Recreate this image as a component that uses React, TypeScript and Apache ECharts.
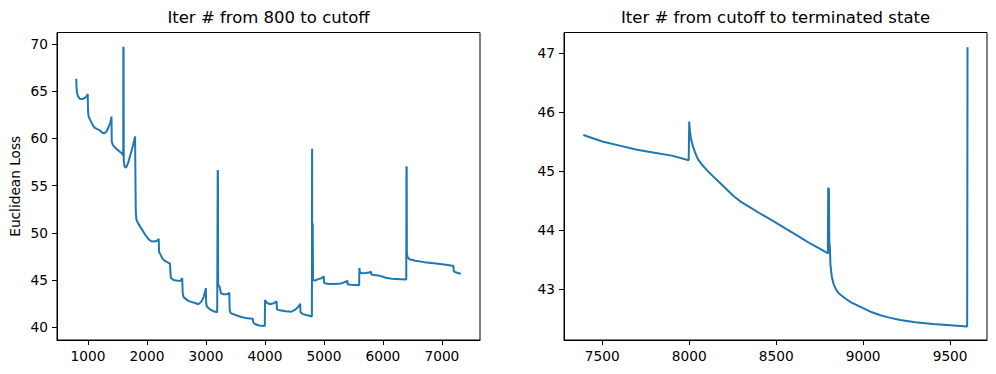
import React, { useEffect, useRef } from "react";
import * as echarts from "echarts";

// Left panel: Iter # from 800 to cutoff
const leftIters = [
  800, 806, 815, 830, 860, 900, 940, 970, 995,
  1000, 1010, 1040, 1080, 1110, 1150, 1200, 1240, 1270, 1310, 1350, 1380, 1398,
  1402, 1420, 1445, 1500, 1575, 1597, 1599, 1601, 1603, 1606, 1620, 1645, 1680, 1720, 1760, 1798,
  1805, 1810, 1820, 1850, 1900, 1970, 2030, 2080, 2150, 2180, 2198,
  2205, 2220, 2260, 2310, 2390,
  2400, 2410, 2450, 2500, 2560, 2580, 2598,
  2605, 2620, 2700, 2800, 2870, 2920, 2960, 2985, 2998,
  3003, 3015, 3070, 3130, 3190, 3197, 3199, 3201, 3203, 3206, 3230, 3255, 3300, 3360, 3395,
  3402, 3420, 3500, 3600, 3700, 3795,
  3802, 3830, 3900, 3997,
  4001, 4030, 4080, 4150, 4197,
  4203, 4250, 4350, 4450, 4520, 4570, 4597,
  4603, 4640, 4700, 4796,
  4799, 4801, 4803, 4806, 4810, 4815, 4850, 4900, 4960, 4997,
  5003, 5050, 5150, 5250, 5320, 5380, 5397,
  5403, 5450, 5597,
  5601, 5610, 5640, 5700, 5770, 5797,
  5803, 5850, 5950, 6000, 6050, 6150, 6300, 6396,
  6399, 6401, 6403, 6406, 6420, 6450, 6550, 6700, 6900, 7100, 7195,
  7200, 7220, 7270, 7320,
];
const leftLoss = [
  66.3, 65.3, 64.8, 64.45, 64.2, 64.15, 64.25, 64.4, 64.68,
  62.9, 62.3, 61.9, 61.4, 61.13, 61.0, 60.85, 60.6, 60.52, 60.7, 61.2, 61.7, 62.3,
  59.7, 59.3, 59.12, 58.8, 58.4, 58.2, 69.7, 58.3, 69.6, 57.6, 57.0, 56.9, 57.4, 58.3, 59.2, 60.2,
  55.0, 52.3, 51.4, 51.0, 50.5, 49.8, 49.3, 49.08, 49.1, 49.2, 49.38,
  48.0, 47.8, 47.3, 47.0, 46.75,
  45.5, 45.2, 45.0, 44.95, 44.9, 45.05, 45.2,
  43.6, 43.2, 42.8, 42.6, 42.45, 42.7, 43.2, 43.8, 44.15,
  42.6, 42.2, 41.9, 41.7, 41.6, 41.6, 56.65, 45.0, 56.5, 44.5, 44.3, 43.6, 43.5, 43.5, 43.65,
  41.8, 41.5, 41.3, 41.1, 40.95, 40.9,
  40.5, 40.35, 40.2, 40.15,
  42.9, 42.6, 42.45, 42.55, 42.75,
  41.9, 41.8, 41.7, 41.65, 41.9, 42.2, 42.5,
  41.6, 41.4, 41.3, 41.15,
  58.9, 45.5, 51.0, 45.3, 51.0, 45.0, 44.95, 45.1, 45.2, 45.4,
  44.7, 44.6, 44.58, 44.6, 44.7, 44.85, 44.95,
  44.55, 44.5, 44.45,
  46.27, 45.8, 45.72, 45.75, 45.8, 45.9,
  45.6, 45.55, 45.45, 45.35, 45.25, 45.15, 45.1, 45.05,
  57.05, 49.3, 57.0, 47.8, 47.4, 47.2, 47.05, 46.9, 46.75, 46.6, 46.5,
  46.0, 45.85, 45.75, 45.67,
];

// Right panel: Iter # from cutoff to terminated state
const rightIters = [
  7391, 7450, 7500, 7600, 7700, 7800, 7900, 7997,
  8000, 8003, 8010, 8020, 8035, 8050, 8075, 8103, 8150, 8200, 8256, 8300, 8350, 8400, 8447,
  8500, 8550, 8600, 8650, 8700, 8750, 8797,
  8799, 8801, 8803, 8806, 8808, 8812, 8820, 8830, 8845, 8860, 8900, 8930, 9000, 9050,
  9100, 9150, 9213, 9300, 9400, 9500, 9598, 9600,
];
const rightLoss = [
  45.61, 45.55, 45.5, 45.43, 45.36, 45.31, 45.26, 45.18,
  45.84, 45.7, 45.55, 45.43, 45.3, 45.2, 45.1, 45.01, 44.87, 44.73, 44.57, 44.47, 44.38, 44.29, 44.21,
  44.12, 44.03, 43.94, 43.85, 43.76, 43.68, 43.6,
  44.72, 43.6, 44.7, 43.6, 43.75, 43.4, 43.2, 43.08, 42.98, 42.92, 42.83, 42.77, 42.67, 42.6,
  42.55, 42.51, 42.47, 42.43, 42.4, 42.38, 42.36, 47.1,
];

const leftXTicks = [1000, 2000, 3000, 4000, 5000, 6000, 7000];
const leftYTicks = [40, 45, 50, 55, 60, 65, 70];
const rightXTicks = [7500, 8000, 8500, 9000, 9500];
const rightYTicks = [43, 44, 45, 46, 47];

const titles = ["Iter # from 800 to cutoff", "Iter # from cutoff to terminated state"];
const yLabel = "Euclidean Loss";

const FONT = "DejaVu Sans";
const COLOR = "#1f77b4";
const TICK_FONT = 13.7;

function zip(xs: number[], ys: number[]) {
  return xs.map((x, i) => [x, ys[i]]);
}

const plain = (v: number) => String(v);

function xAxisCfg(grid: number, min: number, max: number, ticks: number[]) {
  return {
    type: "value",
    gridIndex: grid,
    min,
    max,
    splitLine: { show: false },
    axisLine: { show: true, onZero: false, lineStyle: { color: "#000", width: 1 } },
    axisTick: { show: true, length: 5, customValues: ticks, lineStyle: { color: "#000", width: 1 } },
    axisLabel: { customValues: ticks, color: "#000", fontSize: TICK_FONT, fontFamily: FONT, margin: 9, formatter: plain },
  };
}

function yAxisCfg(grid: number, min: number, max: number, ticks: number[], name?: string) {
  return {
    type: "value",
    gridIndex: grid,
    min,
    max,
    name: name || "",
    nameLocation: "middle",
    nameGap: 35,
    nameTextStyle: { color: "#000", fontSize: TICK_FONT, fontFamily: FONT },
    splitLine: { show: false },
    axisLine: { show: true, onZero: false, lineStyle: { color: "#000", width: 1 } },
    axisTick: { show: true, length: 5, customValues: ticks, lineStyle: { color: "#000", width: 1 } },
    axisLabel: { customValues: ticks, color: "#000", fontSize: TICK_FONT, fontFamily: FONT, margin: 9, formatter: plain },
  };
}

export default function App() {
  const ref = useRef<HTMLDivElement>(null);
  useEffect(() => {
    if (!ref.current) return;
    const chart = echarts.init(ref.current, null, { renderer: "svg" });
    const gridBase = { top: 32.5, height: 307.5, width: 423, show: true, borderColor: "#000", borderWidth: 1, backgroundColor: "transparent" };
    chart.setOption({
      animation: false,
      backgroundColor: "#fff",
      grid: [
        { ...gridBase, left: 57 },
        { ...gridBase, left: 564 },
      ],
      xAxis: [
        xAxisCfg(0, 474, 7646, leftXTicks),
        xAxisCfg(1, 7280, 9712, rightXTicks),
      ],
      yAxis: [
        yAxisCfg(0, 38.66, 71.2, leftYTicks, yLabel),
        yAxisCfg(1, 42.13, 47.35, rightYTicks),
      ],
      graphic: [
        {
          type: "text",
          x: 268.5,
          y: 17,
          style: { text: titles[0], fill: "#000", fontSize: 16.5, fontFamily: FONT, textAlign: "center", textVerticalAlign: "middle" },
        },
        {
          type: "text",
          x: 775.5,
          y: 17,
          style: { text: titles[1], fill: "#000", fontSize: 16.5, fontFamily: FONT, textAlign: "center", textVerticalAlign: "middle" },
        },
      ],
      series: [
        {
          type: "line",
          xAxisIndex: 0,
          yAxisIndex: 0,
          data: zip(leftIters, leftLoss),
          showSymbol: false,
          symbol: "none",
          lineStyle: { color: COLOR, width: 2 },
          itemStyle: { color: COLOR },
        },
        {
          type: "line",
          xAxisIndex: 1,
          yAxisIndex: 1,
          data: zip(rightIters, rightLoss),
          showSymbol: false,
          symbol: "none",
          lineStyle: { color: COLOR, width: 2 },
          itemStyle: { color: COLOR },
        },
      ],
    });
    return () => chart.dispose();
  }, []);
  return (
    <div
      ref={ref}
      style={{ position: "fixed", left: 0, top: 0, width: 996, height: 374, background: "#fff" }}
    />
  );
}
